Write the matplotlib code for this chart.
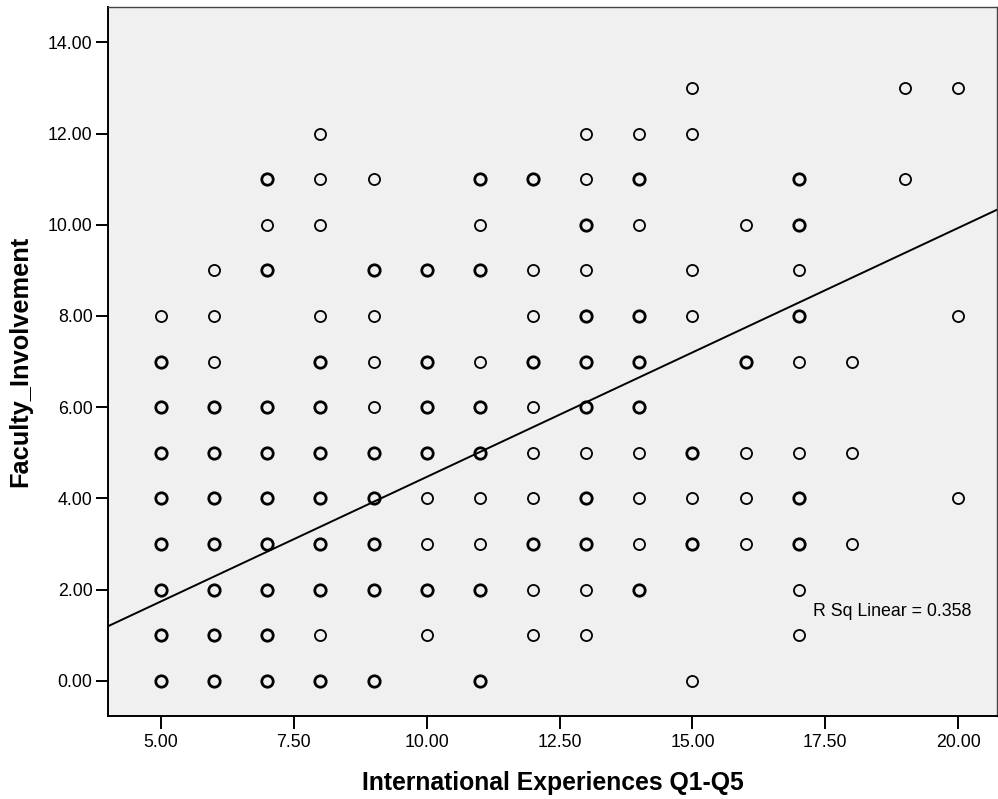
import matplotlib
matplotlib.use("Agg")
import matplotlib.pyplot as plt

plt.rcParams['font.family'] = ['Liberation Sans', 'DejaVu Sans']

# scores per respondent group: x = International Experiences, y = Faculty_Involvement
# n = how many cases sit on the same spot (drawn heavier when > 1)
intl_exp = (
    [5] * 9 + [6] * 10 + [7] * 10 + [8] * 12 + [9] * 10 + [10] * 8 + [11] * 10
    + [12] * 10 + [13] * 12 + [14] * 10 + [15] * 8 + [16] * 5 + [17] * 10
    + [18] * 3 + [19] * 2 + [20] * 3
)
faculty = [
    8, 7, 6, 5, 4, 3, 2, 1, 0,
    9, 8, 7, 6, 5, 4, 3, 2, 1, 0,
    11, 10, 9, 6, 5, 4, 3, 2, 1, 0,
    12, 11, 10, 8, 7, 6, 5, 4, 3, 2, 1, 0,
    11, 9, 8, 7, 6, 5, 4, 3, 2, 0,
    9, 7, 6, 5, 4, 3, 2, 1,
    11, 10, 9, 7, 6, 5, 4, 3, 2, 0,
    11, 9, 8, 7, 6, 5, 4, 3, 2, 1,
    12, 11, 10, 9, 8, 7, 6, 5, 4, 3, 2, 1,
    12, 11, 10, 8, 7, 6, 5, 4, 3, 2,
    13, 12, 9, 8, 5, 4, 3, 0,
    10, 7, 5, 4, 3,
    11, 10, 9, 8, 7, 5, 4, 3, 2, 1,
    7, 5, 3,
    13, 11,
    13, 8, 4,
]
n = [
    1, 2, 2, 2, 2, 2, 2, 2, 2,
    1, 1, 1, 2, 2, 2, 2, 2, 2, 2,
    2, 1, 2, 2, 2, 2, 2, 2, 2, 2,
    1, 1, 1, 1, 2, 2, 2, 2, 2, 2, 1, 2,
    1, 2, 1, 1, 1, 2, 2, 2, 2, 2,
    2, 2, 2, 2, 1, 1, 2, 1,
    2, 1, 2, 1, 2, 2, 1, 1, 2, 2,
    2, 1, 1, 2, 1, 1, 1, 2, 1, 1,
    1, 1, 2, 1, 2, 2, 2, 1, 2, 2, 1, 1,
    1, 2, 1, 2, 2, 2, 1, 1, 1, 2,
    1, 1, 1, 1, 2, 1, 2, 1,
    1, 2, 1, 1, 1,
    2, 2, 1, 2, 1, 1, 2, 2, 1, 1,
    1, 1, 1,
    1, 1,
    1, 1, 1,
]

# linear fit line
fit_slope = 0.546
fit_intercept = -0.99
r_sq = 0.358

x_ticks = [5.0, 7.5, 10.0, 12.5, 15.0, 17.5, 20.0]
y_ticks = [0, 2, 4, 6, 8, 10, 12, 14]

fig = plt.figure(figsize=(9.98, 7.99), dpi=100)
ax = fig.add_axes([0.108, 0.104, 0.891, 0.887])
ax.set_facecolor('#f0f0f0')

single = [(a, b) for a, b, c in zip(intl_exp, faculty, n) if c == 1]
multi = [(a, b) for a, b, c in zip(intl_exp, faculty, n) if c > 1]
ax.plot([p[0] for p in single], [p[1] for p in single], 'o', ms=8.0,
        mfc='none', mec='black', mew=1.3, zorder=3)
ax.plot([p[0] for p in multi], [p[1] for p in multi], 'o', ms=8.2,
        mfc='none', mec='black', mew=2.0, zorder=3)

xlim = (4.0, 20.73)
ax.plot(xlim, [fit_intercept + fit_slope * v for v in xlim], color='black', lw=1.4, zorder=2)
ax.text(17.26, 1.51, f'R Sq Linear = {r_sq:.3f}', fontsize=12.8, va='center', ha='left')

ax.set_xlim(*xlim)
ax.set_ylim(-0.77, 14.77)
ax.set_xticks(x_ticks)
ax.set_xticklabels([f'{v:.2f}' for v in x_ticks])
ax.set_yticks(y_ticks)
ax.set_yticklabels([f'{v:.2f}' for v in y_ticks])
ax.tick_params(axis='both', labelsize=12.8, length=9, width=1.4, direction='out')
ax.tick_params(axis='x', pad=4)
ax.tick_params(axis='y', pad=2)

for side in ['left', 'bottom']:
    ax.spines[side].set_linewidth(1.4)
for side in ['top', 'right']:
    ax.spines[side].set_linewidth(1.0)
    ax.spines[side].set_color('#444444')

ax.set_xlabel('International Experiences Q1-Q5', fontsize=17.8, fontweight='bold')
ax.set_ylabel('Faculty_Involvement', fontsize=18.3, fontweight='bold')
ax.xaxis.set_label_coords(0.5 + (553 - 553) / 891, -0.078)
ax.yaxis.set_label_coords(-0.085, 0.5)

fig.savefig('out.png', dpi=100)
